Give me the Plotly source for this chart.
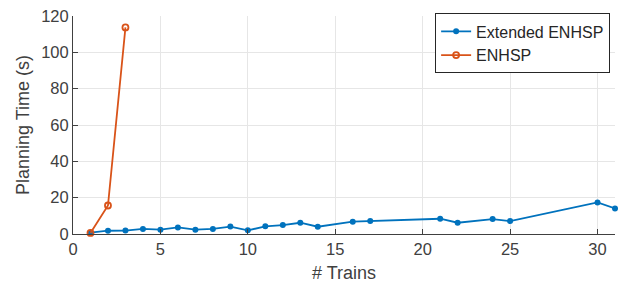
import plotly.graph_objects as go

trains_ext = [1, 2, 3, 4, 5, 6, 7, 8, 9, 10, 11, 12, 13, 14, 16, 17, 21, 22, 24, 25, 30, 31]
time_ext = [0.7, 1.8, 1.9, 2.8, 2.4, 3.6, 2.4, 2.8, 4.1, 2.0, 4.2, 4.9, 6.2, 4.0, 6.8, 7.1, 8.4, 6.2, 8.2, 7.1, 17.4, 14.1]
trains_enhsp = [1, 2, 3]
time_enhsp = [0.6, 15.7, 113.7]

x_ticks = [0, 5, 10, 15, 20, 25, 30]
y_ticks = [0, 20, 40, 60, 80, 100, 120]

blue = "#0072BD"
orange = "#D95319"
font = "Liberation Sans, Arial, Helvetica, sans-serif"
axis_col = "#404040"

fig = go.Figure()
fig.add_trace(go.Scatter(x=trains_ext, y=time_ext, mode="lines+markers", name="Extended ENHSP",
                         line=dict(color=blue, width=1.8),
                         marker=dict(symbol="circle", size=6, color=blue), cliponaxis=False))
fig.add_trace(go.Scatter(x=trains_enhsp, y=time_enhsp, mode="lines+markers", name="ENHSP",
                         line=dict(color=orange, width=1.8),
                         marker=dict(symbol="circle-open", size=6, color=orange, line=dict(width=1.8)),
                         cliponaxis=False))

fig.update_layout(
    width=618, height=287,
    margin=dict(l=73, r=3, t=16, b=53),
    paper_bgcolor="white", plot_bgcolor="white",
    font=dict(family=font, size=16.5, color=axis_col),
    showlegend=True,
    legend=dict(x=0.991, y=1.012, xanchor="right", yanchor="top",
                bgcolor="white", bordercolor="#262626", borderwidth=1,
                font=dict(size=16, color="#262626"),
                tracegroupgap=0, itemwidth=30),
)
fig.update_xaxes(range=[0, 31], tickvals=x_ticks, ticktext=[str(v) for v in x_ticks],
                 automargin=False,
                 showgrid=True, gridcolor="#e6e6e6", gridwidth=1, zeroline=False,
                 showline=True, linecolor=axis_col, linewidth=1,
                 ticks="inside", ticklen=5, tickcolor=axis_col,
                 title=dict(text="# Trains", font=dict(size=18, color=axis_col), standoff=9),
                 tickfont=dict(size=16.5, color=axis_col))
fig.update_yaxes(range=[0, 120], tickvals=y_ticks, ticktext=[str(v) for v in y_ticks],
                 automargin=False,
                 showgrid=True, gridcolor="#e6e6e6", gridwidth=1, zeroline=False,
                 showline=True, linecolor=axis_col, linewidth=1,
                 ticks="inside", ticklen=5, tickcolor=axis_col,
                 title=dict(text="Planning Time (s)", font=dict(size=18, color=axis_col), standoff=6),
                 tickfont=dict(size=16.5, color=axis_col))

fig.write_html("out.html", config={"displayModeBar": False},
               post_script="document.body.style.margin='0';")
